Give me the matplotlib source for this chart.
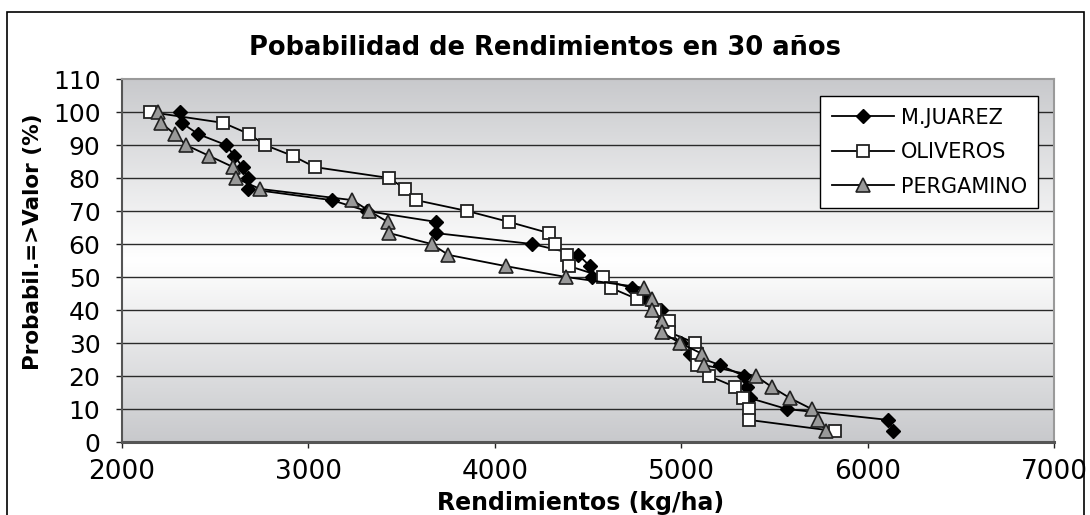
import matplotlib
matplotlib.use("Agg")
import matplotlib.pyplot as plt
from matplotlib.colors import LinearSegmentedColormap
from matplotlib.patches import Rectangle
import numpy as np

plt.rcParams['font.family'] = ['DejaVu Sans']

# probabilidad (%) para cada uno de los 30 años
prob = [100, 96.7, 93.3, 90, 86.7, 83.3, 80, 76.7, 73.3, 70,
        66.7, 63.3, 60, 56.7, 53.3, 50, 46.7, 43.3, 40, 36.7,
        33.3, 30, 26.7, 23.3, 20, 16.7, 13.3, 10, 6.7, 3.3]

# rendimientos (kg/ha)
mjuarez = [2311, 2320, 2409, 2558, 2603, 2647, 2678, 2674, 3125, 3313,
           3685, 3685, 4201, 4448, 4511, 4520, 4736, 4815, 4892, 4900,
           4930, 5000, 5047, 5208, 5337, 5351, 5369, 5566, 6111, 6138]
oliveros = [2150, 2544, 2683, 2767, 2916, 3035, 3434, 3518, 3577, 3852,
            4076, 4291, 4323, 4386, 4400, 4582, 4623, 4764, 4860, 4935,
            4935, 5074, 5083, 5083, 5150, 5289, 5333, 5364, 5364, 5826]
pergamino = [2191, 2209, 2284, 2343, 2468, 2597, 2610, 2740, 3236, 3327,
             3425, 3434, 3661, 3751, 4059, 4382, 4802, 4841, 4841, 4895,
             4895, 4993, 5113, 5124, 5401, 5485, 5584, 5700, 5732, 5777]

xticks = [2000, 3000, 4000, 5000, 6000, 7000]
yticks = list(range(0, 111, 10))

fig = plt.figure(figsize=(10.9, 5.15), dpi=100)
ax = fig.add_axes([0.1119, 0.1417, 0.967 - 0.1119, 0.8466 - 0.1417])

# fondo degradado: gris arriba y abajo, blanco al medio
grad_cmap = LinearSegmentedColormap.from_list(
    'bg', [(0.0, '#c8c9cc'), (0.5, '#ffffff'), (1.0, '#c8c9cc')])
grad = np.linspace(0, 1, 256).reshape(-1, 1)
ax.imshow(grad, cmap=grad_cmap, extent=[2000, 7000, 0, 110],
          aspect='auto', origin='lower', zorder=0)

for v in yticks[1:-1]:
    ax.axhline(v, color='#2a2a2a', lw=1.0, zorder=1)

ax.plot(mjuarez, prob, color='black', lw=1.3, marker='D', ms=7.5,
        mfc='black', mec='black', label='M.JUAREZ', zorder=3)
ax.plot(oliveros, prob, color='black', lw=1.3, marker='s', ms=8,
        mfc='white', mec='#222222', mew=1.3, label='OLIVEROS', zorder=3)
ax.plot(pergamino, prob, color='black', lw=1.3, marker='^', ms=10,
        mfc='#999999', mec='#222222', mew=1.2, label='PERGAMINO', zorder=3)

ax.set_xlim(2000, 7000)
ax.set_ylim(0, 110)
ax.set_xticks(xticks)
ax.set_yticks(yticks)
ax.tick_params(axis='x', labelsize=19, length=4.5, width=1, pad=8, color='#222222')
ax.tick_params(axis='y', labelsize=18, length=4.5, width=1, pad=11, color='#222222')

for s in ['top', 'right']:
    ax.spines[s].set_color('#9a9a9a')
    ax.spines[s].set_linewidth(1.5)
ax.spines['left'].set_color('#555555')
ax.spines['left'].set_linewidth(1.5)
ax.spines['bottom'].set_color('#555555')
ax.spines['bottom'].set_linewidth(2.2)

leg = ax.legend(loc='upper right', bbox_to_anchor=(0.983, 0.953),
                borderaxespad=0, fontsize=15, frameon=True, fancybox=False,
                framealpha=1, edgecolor='black', handlelength=3.0,
                numpoints=1, borderpad=0.55, labelspacing=0.7,
                handletextpad=0.3)
leg.get_frame().set_linewidth(1.0)

fig.text(0.5, 0.907, 'Pobabilidad de Rendimientos en 30 años',
         ha='center', va='center', fontsize=18.5, fontweight='bold')
fig.text(0.533, 0.024, 'Rendimientos (kg/ha)', ha='center', va='center',
         fontsize=17, fontweight='bold')
fig.text(0.03, 0.53, 'Probabil.=>Valor (%)', ha='center', va='center',
         rotation=90, fontsize=15.5, fontweight='bold')

# marco exterior del gráfico
fig.patches.append(Rectangle((0.0065, -0.1), 0.988, 1.077, fill=False,
                             edgecolor='black', lw=1.2,
                             transform=fig.transFigure, figure=fig))

fig.savefig('out.png', dpi=100)
